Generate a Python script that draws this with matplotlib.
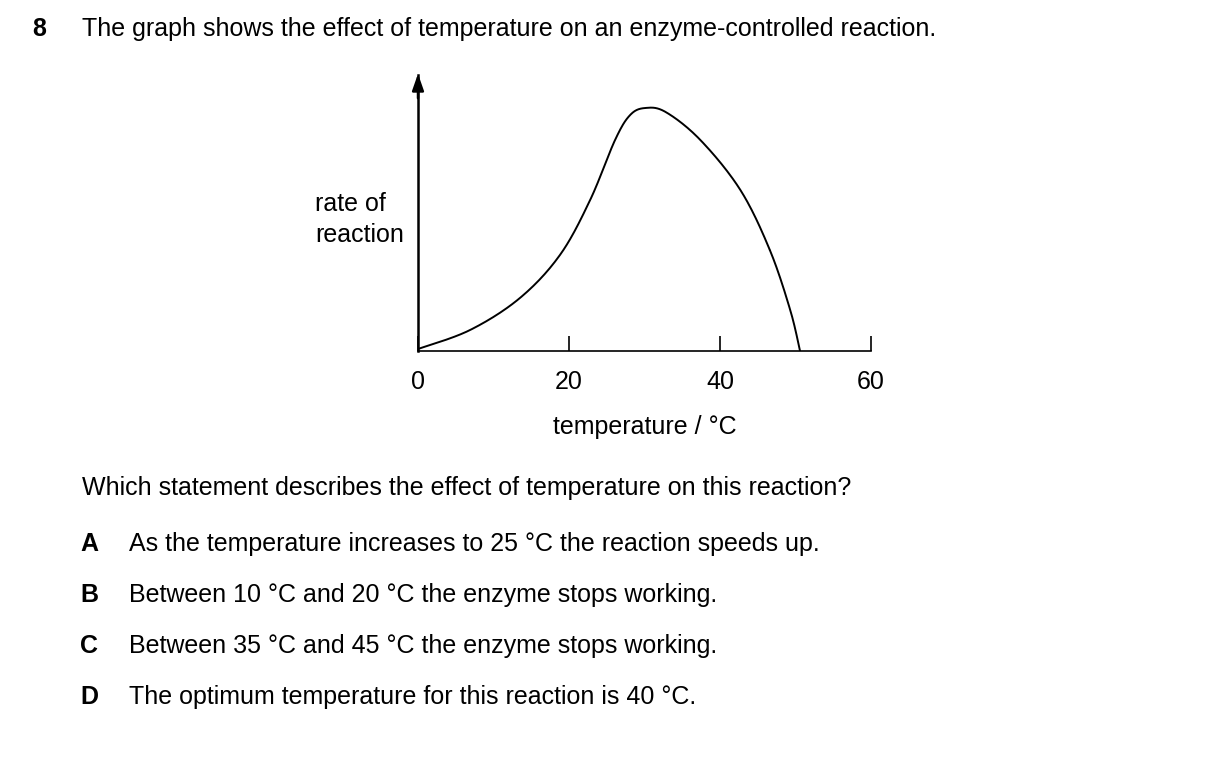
import numpy as np
import matplotlib
matplotlib.use("Agg")
import matplotlib.pyplot as plt

plt.rcParams['font.family'] = ['Liberation Sans', 'DejaVu Sans']

temp = [0, 6.9, 13.5, 18.8, 22.8, 26.1, 28.1, 30.1, 32.8, 37.4, 42.7, 46.6, 49.3, 50.6]
rate = [2, 21, 53, 96, 151, 211, 236, 243, 239, 211, 161, 101, 41, 0]
xticks = [0, 20, 40, 60]

def catmull(x, y, n=30):
    p = np.column_stack([x, y]).astype(float)
    p = np.vstack([p[0], p, p[-1]])
    out = []
    for i in range(1, len(p) - 2):
        t = np.linspace(0, 1, n)[:, None]
        p0, p1, p2, p3 = p[i-1], p[i], p[i+1], p[i+2]
        out.append(0.5*((2*p1) + (-p0+p2)*t + (2*p0-5*p1+4*p2-p3)*t**2 + (-p0+3*p1-3*p2+p3)*t**3))
    o = np.vstack(out)
    return o[:, 0], o[:, 1]

W, H = 1209, 762
fig = plt.figure(figsize=(W/100, H/100), dpi=100)
ax = fig.add_axes([418/W, (H-351)/H, 453/W, 276/H])
cx, cy = catmull(temp, rate)
ax.plot(cx, cy, color='black', lw=1.4)
ax.set_xlim(0, 60)
ax.set_ylim(0, 276)
for s in ['top', 'right']:
    ax.spines[s].set_visible(False)
ax.spines['left'].set_linewidth(1.8)
ax.spines['bottom'].set_linewidth(1.2)
ax.annotate('', xy=(0, 280), xytext=(0, 250), xycoords='data',
            arrowprops=dict(arrowstyle='-|>,head_length=1.0,head_width=0.35', color='black', lw=1.8),
            annotation_clip=False)
ax.set_yticks([])
ax.set_xticks(xticks)
ax.set_xticklabels([str(v) for v in xticks], fontsize=18)
ax.tick_params(axis='x', direction='in', length=11, width=1.2, pad=14)

fs = 18
fig.text(32/W, 1-29/H, '8', fontsize=fs, weight='bold', va='center')
fig.text(82/W, 1-29/H, 'The graph shows the effect of temperature on an enzyme-controlled reaction.', fontsize=fs, va='center')
fig.text(315/W, 1-204/H, 'rate of', fontsize=fs, va='center')
fig.text(315/W, 1-235/H, 'reaction', fontsize=fs, va='center')
fig.text(645/W, 1-427/H, 'temperature / °C', fontsize=fs, va='center', ha='center')
fig.text(82/W, 1-488/H, 'Which statement describes the effect of temperature on this reaction?', fontsize=fs, va='center')
opts = [('A', 'As the temperature increases to 25 °C the reaction speeds up.', 544),
        ('B', 'Between 10 °C and 20 °C the enzyme stops working.', 595),
        ('C', 'Between 35 °C and 45 °C the enzyme stops working.', 646),
        ('D', 'The optimum temperature for this reaction is 40 °C.', 697)]
for l, t, y in opts:
    fig.text(80/W, 1-y/H, l, fontsize=fs, weight='bold', va='center')
    fig.text(129/W, 1-y/H, t, fontsize=fs, va='center')
fig.savefig('out.png', dpi=100)
